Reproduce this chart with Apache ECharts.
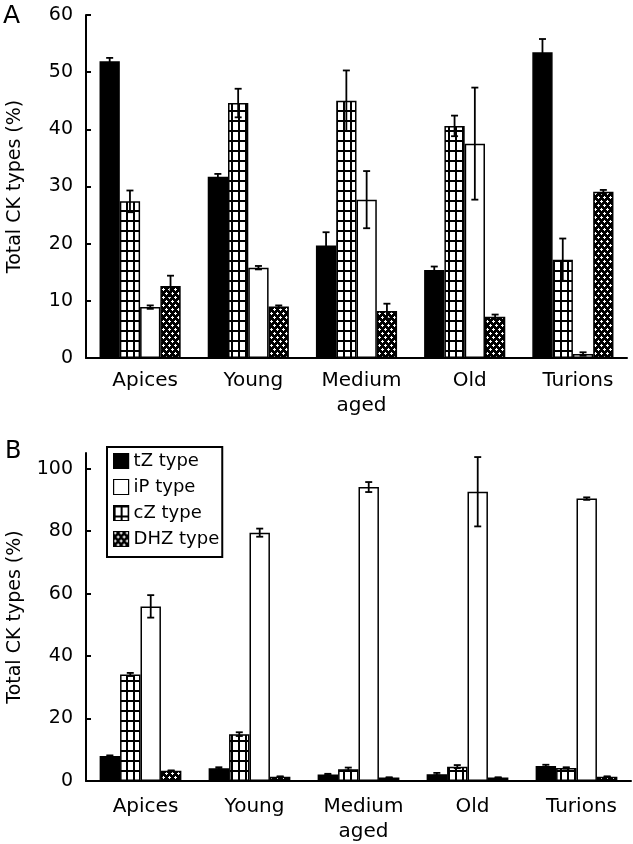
<!DOCTYPE html>
<html>
<head>
<meta charset="utf-8">
<script src="https://cdn.jsdelivr.net/npm/echarts@6/dist/echarts.min.js"></script>
<style>
html,body{margin:0;padding:0;background:#fff;}
#chart{width:633px;height:844px;}
</style>
</head>
<body>
<div id="chart"></div>
<script>
// ---- data ----
const categories = ['Apices', 'Young', 'Medium\naged', 'Old', 'Turions'];
const seriesNames = ['tZ type', 'cZ type', 'iP type', 'DHZ type'];
const legendOrder = ['tZ type', 'iP type', 'cZ type', 'DHZ type'];

// Panel A
const tZ_A = [51.9, 31.7, 19.7, 15.4, 53.5];
const tZ_A_err = [0.6, 0.5, 2.3, 0.6, 2.3];
const cZ_A = [27.4, 44.6, 45.0, 40.6, 17.2];
const cZ_A_err = [1.9, 2.5, 5.3, 1.8, 3.7];
const iP_A = [8.9, 15.8, 27.7, 37.5, 0.7];
const iP_A_err = [0.3, 0.3, 5.0, 9.8, 0.3];
const DHZ_A = [12.6, 9.0, 8.2, 7.2, 29.1];
const DHZ_A_err = [1.8, 0.2, 1.3, 0.4, 0.3];

// Panel B
const tZ_B = [8.0, 4.1, 2.1, 2.2, 4.8];
const tZ_B_err = [0.2, 0.3, 0.2, 0.4, 0.4];
const cZ_B = [34.1, 15.0, 3.8, 4.6, 4.2];
const cZ_B_err = [0.5, 0.6, 0.5, 0.5, 0.2];
const iP_B = [55.9, 79.5, 94.1, 92.6, 90.4];
const iP_B_err = [3.6, 1.3, 1.6, 11.1, 0.4];
const DHZ_B = [3.3, 1.4, 1.1, 1.1, 1.4];
const DHZ_B_err = [0.1, 0.1, 0.1, 0.1, 0.1];

const yTicksA = [0, 10, 20, 30, 40, 50, 60];
const yTicksB = [0, 20, 40, 60, 80, 100];

// ---- patterns ----
function makeGrid() {
  const c = document.createElement('canvas');
  c.width = 7; c.height = 10;
  const g = c.getContext('2d');
  g.fillStyle = '#fff'; g.fillRect(0, 0, 7, 10);
  g.fillStyle = '#000';
  g.fillRect(0, 0, 2, 10);
  g.fillRect(0, 0, 7, 2);
  return c;
}
function makeDots() {
  const c = document.createElement('canvas');
  c.width = 6; c.height = 8;
  const g = c.getContext('2d');
  g.fillStyle = '#000'; g.fillRect(0, 0, 6, 8);
  g.fillStyle = '#fff';
  g.fillRect(0, 1, 3, 1); g.fillRect(1, 0, 1, 3);
  g.fillRect(3, 5, 3, 1); g.fillRect(4, 4, 1, 3);
  return c;
}
const fills = {
  'tZ type': '#000',
  'cZ type': { image: makeGrid(), repeat: 'repeat' },
  'iP type': '#fff',
  'DHZ type': { image: makeDots(), repeat: 'repeat' }
};

const FONT = 'DejaVu Sans';

function barSeries(name, data, axis) {
  return {
    type: 'bar', name: name, data: data,
    xAxisIndex: axis, yAxisIndex: axis,
    barGap: '0%', barCategoryGap: '25%',
    itemStyle: { color: fills[name], borderColor: '#000', borderWidth: 1.5 },
    emphasis: { disabled: true }
  };
}
function errSeries(vals, errs, idx, axis) {
  return {
    type: 'custom', xAxisIndex: axis, yAxisIndex: axis, z: 10, silent: true,
    data: vals.map((v, i) => [i, v, errs[i]]),
    encode: { x: 0, y: 1 },
    renderItem: function (params, api) {
      const ci = api.value(0), v = api.value(1), e = api.value(2);
      const bw = api.size([1, 0])[0];
      const usable = bw * 0.75, barW = usable / 4;
      const cx = api.coord([ci, v])[0] - usable / 2 + barW * (idx + 0.5);
      const yTop = api.coord([ci, v + e])[1];
      const yBot = api.coord([ci, v - e])[1];
      const cap = 3.5;
      const st = { stroke: '#000', lineWidth: 1.8 };
      return {
        type: 'group', children: [
          { type: 'line', shape: { x1: cx, y1: yTop, x2: cx, y2: yBot }, style: st },
          { type: 'line', shape: { x1: cx - cap, y1: yTop, x2: cx + cap, y2: yTop }, style: st },
          { type: 'line', shape: { x1: cx - cap, y1: yBot, x2: cx + cap, y2: yBot }, style: st }
        ]
      };
    }
  };
}

function xAxisCfg(gi, margin) {
  return {
    type: 'category', gridIndex: gi, data: categories,
    axisLine: { lineStyle: { color: '#000', width: 2 } },
    axisTick: { inside: true, length: 6, lineStyle: { color: '#000', width: 2 } },
    axisLabel: { color: '#000', fontFamily: FONT, fontSize: 20, lineHeight: 25, margin: margin, interval: 0, padding: [0, 0, 0, 10] }
  };
}
function yAxisCfg(gi, max, ticks) {
  return {
    type: 'value', gridIndex: gi, min: 0, max: max,
    name: 'Total CK types (%)', nameLocation: 'middle', nameGap: 61,
    nameTextStyle: { color: '#000', fontFamily: FONT, fontSize: 19 },
    axisLine: { show: true, lineStyle: { color: '#000', width: 2 } },
    axisTick: { show: true, inside: true, length: 5, lineStyle: { color: '#000', width: 2 }, customValues: ticks },
    axisLabel: { color: '#000', fontFamily: FONT, fontSize: 19, margin: 13, customValues: ticks },
    splitLine: { show: false }
  };
}

const option = {
  animation: false,
  textStyle: { fontFamily: FONT },
  grid: [
    { left: 86, top: 15, width: 541, height: 343, containLabel: false, outerBoundsMode: 'none' },
    { left: 86, top: 453, width: 545, height: 328, containLabel: false, outerBoundsMode: 'none' }
  ],
  xAxis: [xAxisCfg(0, 10), xAxisCfg(1, 13)],
  yAxis: [yAxisCfg(0, 60, yTicksA), yAxisCfg(1, 105, yTicksB)],
  legend: {
    data: legendOrder, orient: 'vertical', left: 107, top: 447,
    padding: [5, 3, 9, 6], itemGap: 8, itemWidth: 15, itemHeight: 15,
    borderColor: '#000', borderWidth: 2, borderRadius: 0,
    icon: 'rect',
    itemStyle: { borderColor: '#000', borderWidth: 1.2 },
    textStyle: { color: '#000', fontFamily: FONT, fontSize: 18 },
    selectedMode: false
  },
  graphic: [
    { type: 'text', left: 3, top: 4, style: { text: 'A', font: '25px "DejaVu Sans"', fill: '#000' } },
    { type: 'text', left: 5, top: 440, style: { text: 'B', font: '24px "DejaVu Sans"', fill: '#000' } }
  ],
  series: [
    barSeries('tZ type', tZ_A, 0),
    barSeries('cZ type', cZ_A, 0),
    barSeries('iP type', iP_A, 0),
    barSeries('DHZ type', DHZ_A, 0),
    errSeries(tZ_A, tZ_A_err, 0, 0),
    errSeries(cZ_A, cZ_A_err, 1, 0),
    errSeries(iP_A, iP_A_err, 2, 0),
    errSeries(DHZ_A, DHZ_A_err, 3, 0),
    barSeries('tZ type', tZ_B, 1),
    barSeries('cZ type', cZ_B, 1),
    barSeries('iP type', iP_B, 1),
    barSeries('DHZ type', DHZ_B, 1),
    errSeries(tZ_B, tZ_B_err, 0, 1),
    errSeries(cZ_B, cZ_B_err, 1, 1),
    errSeries(iP_B, iP_B_err, 2, 1),
    errSeries(DHZ_B, DHZ_B_err, 3, 1)
  ]
};
const chart = echarts.init(document.getElementById('chart'), null, { renderer: 'canvas' });
chart.setOption(option);
</script>
</body>
</html>
